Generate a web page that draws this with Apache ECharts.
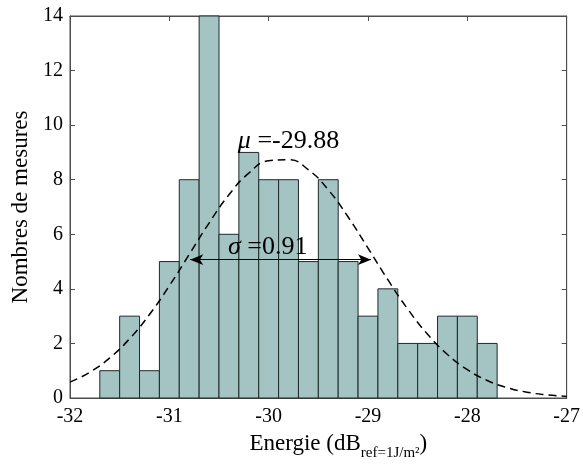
<!DOCTYPE html>
<html>
<head>
<meta charset="utf-8">
<script src="https://cdn.jsdelivr.net/npm/echarts@6/dist/echarts.min.js"></script>
<style>html,body{margin:0;padding:0;background:#fff}#c{width:583px;height:466px}</style>
</head>
<body>
<div id="c"></div>
<script>
// Histogram bin edges (dB) and counts
const binEdges = [-31.7,-31.5,-31.3,-31.1,-30.9,-30.7,-30.5,-30.3,-30.1,-29.9,-29.7,-29.5,-29.3,-29.1,-28.9,-28.7,-28.5,-28.3,-28.1,-27.9,-27.7];
const counts   = [1,3,1,5,8,14,6,9,8,8,5,8,5,3,4,2,2,3,3,2];
// Fitted normal curve (mu=-29.88, sigma=0.91), read/sampled along x
const curveX = [-32,-31.8,-31.6,-31.4,-31.2,-31,-30.8,-30.6,-30.4,-30.2,-30,-29.8,-29.6,-29.4,-29.2,-29,-28.8,-28.6,-28.4,-28.2,-28,-27.8,-27.6,-27.4,-27.2,-27];
const curveY = [0.581,0.947,1.470,2.173,3.062,4.111,5.260,6.412,7.447,8.242,8.692,8.734,8.363,7.629,6.632,5.493,4.335,3.260,2.336,1.595,1.038,0.643,0.380,0.214,0.115,0.059];
const mu = -29.88, sigma = 0.91;
const arrowY = 5.07;
const xTicks = [-32,-31,-30,-29,-28,-27];
const yTicks = [0,2,4,6,8,10,12,14];

const FONT = '"Liberation Serif", "DejaVu Serif", serif';
const chart = echarts.init(document.getElementById('c'), null, {renderer:'canvas'});

const barData = counts.map((c,i)=>[binEdges[i], binEdges[i+1], c]);
const axisCol = '#4d4d4d';

const option = {
  animation:false,
  grid:{left:70, right:13, top:16, bottom:65, show:true, borderColor:axisCol, borderWidth:1},
  xAxis:[{
    type:'value', min:xTicks[0], max:xTicks[xTicks.length-1], interval:1,
    axisLine:{show:true, onZero:false, lineStyle:{color:axisCol}},
    axisTick:{show:true, inside:true, length:5, lineStyle:{color:axisCol}},
    axisLabel:{color:'#000', fontFamily:FONT, fontSize:20, margin:9, formatter:v=>String(v)},
    splitLine:{show:false},
    name:'{n|Energie (dB}{s|ref=1J/m²}{n|)}',
    nameLocation:'middle', nameGap:33,
    nameTextStyle:{padding:[0,0,0,40], rich:{n:{fontFamily:FONT, fontSize:23, color:'#000', verticalAlign:'bottom', lineHeight:24},
                         s:{fontFamily:FONT, fontSize:15, color:'#000', verticalAlign:'bottom', lineHeight:15, padding:[0,0,-6,0]}}}
  },{
    type:'value', min:xTicks[0], max:xTicks[xTicks.length-1], interval:1, position:'top',
    axisLine:{show:true, onZero:false, lineStyle:{color:axisCol}},
    axisTick:{show:true, inside:true, length:5, lineStyle:{color:axisCol}},
    axisLabel:{show:false}, splitLine:{show:false}
  }],
  yAxis:[{
    type:'value', min:yTicks[0], max:yTicks[yTicks.length-1], interval:2,
    axisLine:{show:true, onZero:false, lineStyle:{color:axisCol}},
    axisTick:{show:true, inside:true, length:5, lineStyle:{color:axisCol}},
    axisLabel:{color:'#000', fontFamily:FONT, fontSize:20, margin:7},
    splitLine:{show:false},
    name:'Nombres de mesures', nameLocation:'middle', nameGap:33,
    nameTextStyle:{fontFamily:FONT, fontSize:23, color:'#000'}
  },{
    type:'value', min:yTicks[0], max:yTicks[yTicks.length-1], interval:2, position:'right',
    axisLine:{show:true, onZero:false, lineStyle:{color:axisCol}},
    axisTick:{show:true, inside:true, length:5, lineStyle:{color:axisCol}},
    axisLabel:{show:false}, splitLine:{show:false}
  }],
  series:[
    {
      type:'custom', xAxisIndex:0, yAxisIndex:0, z:2,
      data:barData,
      encode:{x:[0,1], y:2},
      renderItem:function(params, api){
        const p0 = api.coord([api.value(0), api.value(2)]);
        const p1 = api.coord([api.value(1), 0]);
        return {type:'rect', shape:{x:p0[0], y:p0[1], width:p1[0]-p0[0], height:p1[1]-p0[1]},
                style:{fill:'#a4c3c3', stroke:'#1f2a2a', lineWidth:1}};
      }
    },
    {
      type:'line', xAxisIndex:0, yAxisIndex:0, z:5,
      data:curveX.map((x,i)=>[x, curveY[i]]),
      smooth:true, symbol:'none', clip:true,
      lineStyle:{color:'#000', width:1.5, type:[8,5]},
      markLine:{
        silent:true, symbol:['arrow','arrow'], symbolSize:[8,13],
        label:{show:false},
        lineStyle:{color:'#000', width:1, type:'solid'},
        data:[[{coord:[mu-sigma, arrowY]},{coord:[mu+sigma, arrowY]}]]
      }
    },
    {
      type:'custom', xAxisIndex:0, yAxisIndex:0, z:6,
      data:[[-30.31, 9.42, 'mu'],[-30.41, 5.52, 'sigma']],
      renderItem:function(params, api){
        const p = api.coord([api.value(0), api.value(1)]);
        const which = params.dataIndex === 0;
        const txt = which ? '{i|μ} =' + mu.toFixed(2) : '{i|σ} =' + sigma.toFixed(2);
        return {type:'text', x:p[0], y:p[1],
          style:{text:txt, fontFamily:FONT, fontSize:26, fill:'#000', verticalAlign:'middle', align:'left',
                 rich:{i:{fontFamily:FONT, fontSize:26, fontStyle:'italic', fill:'#000'}}}};
      }
    }
  ]
};
chart.setOption(option);
</script>
</body>
</html>
